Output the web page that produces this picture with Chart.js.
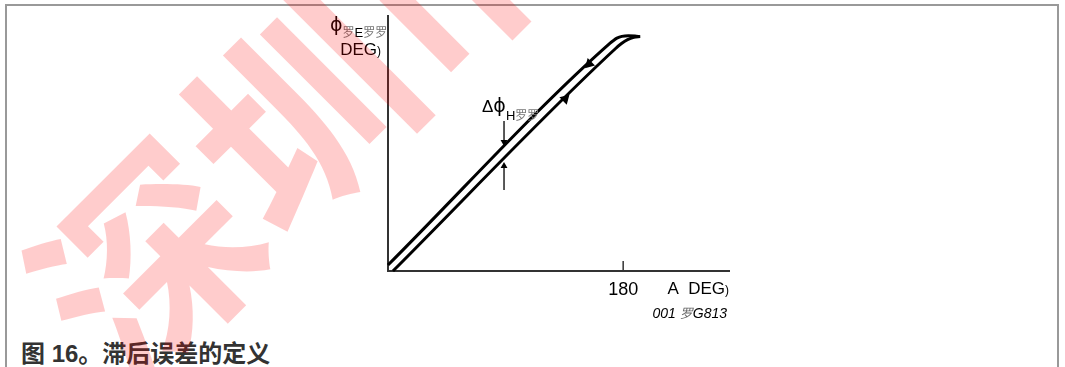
<!DOCTYPE html>
<html>
<head>
<meta charset="utf-8">
<script src="https://cdn.jsdelivr.net/npm/chart.js@4.4.1/dist/chart.umd.min.js"></script>
<style>
  html, body { margin: 0; padding: 0; background: #fff; }
  #wrap { position: relative; width: 1065px; height: 367px; overflow: hidden; }
  #frame { position: absolute; left: 5px; top: 4px; width: 1050px; height: 420px; border: 2px solid #999; border-bottom: none; }
  #caption { position: absolute; left: 21px; top: 342px; font: bold 24px "Liberation Sans", "Noto Sans CJK SC", sans-serif; line-height: 24px; color: #333; white-space: nowrap; }
  canvas { position: absolute; left: 0; top: 0; }
</style>
</head>
<body>
<div id="wrap">
  <div id="frame"></div>
  <div id="caption">图 16。滞后误差的定义</div>
  <canvas id="hyst" width="1065" height="367"></canvas>
</div>
<script>
// axis ranges, degrees
const xMax = 261;
const yMax = 195.3;
const xTickValues = [180];

// decreasing branch (upper line, arrow down-left)
const downX = [0, 170, 172.6, 175.2, 179, 184, 189, 193];
const downY = [4.6, 174.6, 176.6, 178.3, 179.7, 180.2, 180.0, 179.5];
// increasing branch (lower line, arrow up-right)
const upX = [3.8, 174, 178.7, 183.4, 188.2, 193];
const upY = [0, 170.2, 174.2, 177.2, 178.9, 179.5];

// direction markers on the branches
const downMarkX = [154];
const downMarkY = [158.6];
const upMarkX = [135.6];
const upMarkY = [131.8];

// delta phi H dimension arrows
const deltaX = 88.8;
const deltaTopY = [114.9, 98.8];
const deltaBotY = [62.0, 80.4];

const SANS = '"Liberation Sans", Arial, "DejaVu Sans", sans-serif';
const CJK = '"Noto Sans CJK SC", sans-serif';

const pts = (xs, ys) => xs.map((v, i) => ({ x: v, y: ys[i] }));

// draw a row of text pieces (text, font, colour, dy)
function runs(ctx, x, y, parts, align) {
  let w = 0;
  parts.forEach(p => { ctx.font = p[1]; w += ctx.measureText(p[0]).width; });
  let cx = align === 'right' ? x - w : x;
  parts.forEach(p => {
    ctx.font = p[1];
    ctx.fillStyle = p[2] || '#000';
    ctx.fillText(p[0], cx, y + (p[3] || 0));
    cx += ctx.measureText(p[0]).width;
  });
}

const decor = {
  id: 'decor',
  afterDatasetsDraw(chart) {
    const { ctx, chartArea: a, scales: { x, y } } = chart;
    ctx.save();
    // inner tick marks
    ctx.strokeStyle = '#333';
    ctx.lineWidth = 1.5;
    xTickValues.forEach(v => {
      const px = x.getPixelForValue(v);
      ctx.beginPath();
      ctx.moveTo(px, a.bottom);
      ctx.lineTo(px, a.bottom - 10);
      ctx.stroke();
    });
    ctx.textAlign = 'left';
    ctx.textBaseline = 'alphabetic';
    // y axis title
    runs(ctx, a.left - 58, a.top + 15, [
      ['ϕ', '19px "DejaVu Sans", sans-serif'],
      ['罗', '12px ' + CJK, '#777', 6],
      ['E', '13px ' + SANS, '#000', 6],
      ['罗罗', '12px ' + CJK, '#777', 6]
    ]);
    runs(ctx, a.left - 7, a.top + 39, [['DEG', '17px ' + SANS], [')', '12px ' + SANS]], 'right');
    // delta label
    const dx = x.getPixelForValue(deltaX);
    const dy = y.getPixelForValue(deltaTopY[0]) - 9;
    runs(ctx, dx - 22, dy, [
      ['Δ', '17px ' + SANS],
      ['ϕ', '19px "DejaVu Sans", sans-serif'],
      ['H', '13px ' + SANS, '#000', 8],
      ['罗罗', '12px ' + CJK, '#777', 8]
    ]);
    // x axis title and figure code
    runs(ctx, a.right, a.bottom + 23, [['A  DEG', '17px ' + SANS], [')', '12px ' + SANS]], 'right');
    runs(ctx, a.right - 2, a.bottom + 47, [
      ['001 ', 'italic 14px ' + SANS],
      ['罗', 'italic 13px ' + CJK, '#666'],
      ['G813', 'italic 14px ' + SANS]
    ], 'right');
    ctx.restore();
  },
  afterDraw(chart) {
    // watermark
    const ctx = chart.ctx;
    ctx.save();
    ctx.translate(72, 340);
    ctx.rotate(-Math.PI / 4);
    ctx.font = 'bold 215px ' + CJK;
    ctx.fillStyle = 'rgba(255,0,0,0.2)';
    ctx.textBaseline = 'middle';
    ctx.fillText('深圳市', 0, 0);
    ctx.restore();
  }
};

const branch = {
  showLine: true, borderColor: '#000', borderWidth: 3, pointRadius: 0,
  fill: false, cubicInterpolationMode: 'monotone', clip: false
};
const marker = {
  pointStyle: 'triangle', pointRadius: 6, pointBorderWidth: 0,
  pointBackgroundColor: '#000', clip: false
};
const dim = {
  showLine: true, borderColor: '#000', borderWidth: 1.3, pointStyle: 'triangle',
  pointRadius: [0, 4], pointBorderWidth: 0, pointBackgroundColor: '#000', clip: false
};

new Chart(document.getElementById('hyst'), {
  type: 'scatter',
  data: {
    datasets: [
      { ...branch, data: pts(downX, downY) },
      { ...branch, data: pts(upX, upY) },
      { ...marker, rotation: 225, data: pts(downMarkX, downMarkY) },
      { ...marker, rotation: 45, data: pts(upMarkX, upMarkY) },
      { ...dim, rotation: 180, data: deltaTopY.map(v => ({ x: deltaX, y: v })) },
      { ...dim, rotation: 0, data: deltaBotY.map(v => ({ x: deltaX, y: v })) }
    ]
  },
  options: {
    responsive: false,
    animation: false,
    devicePixelRatio: 1,
    events: [],
    layout: { padding: { left: 388, top: 16, right: 336, bottom: 58.4 } },
    plugins: { legend: { display: false }, tooltip: { enabled: false } },
    scales: {
      x: {
        type: 'linear', min: 0, max: xMax,
        border: { display: true, color: '#333', width: 2 },
        grid: { display: false, drawTicks: false },
        ticks: { color: '#000', padding: 8, maxRotation: 0, autoSkip: false, font: { family: SANS, size: 18 } },
        afterBuildTicks: s => { s.ticks = xTickValues.map(v => ({ value: v })); }
      },
      y: {
        type: 'linear', min: 0, max: yMax,
        border: { display: true, color: '#333', width: 2 },
        grid: { display: false, drawTicks: false },
        ticks: { display: false }
      }
    }
  },
  plugins: [decor]
});
</script>
</body>
</html>
